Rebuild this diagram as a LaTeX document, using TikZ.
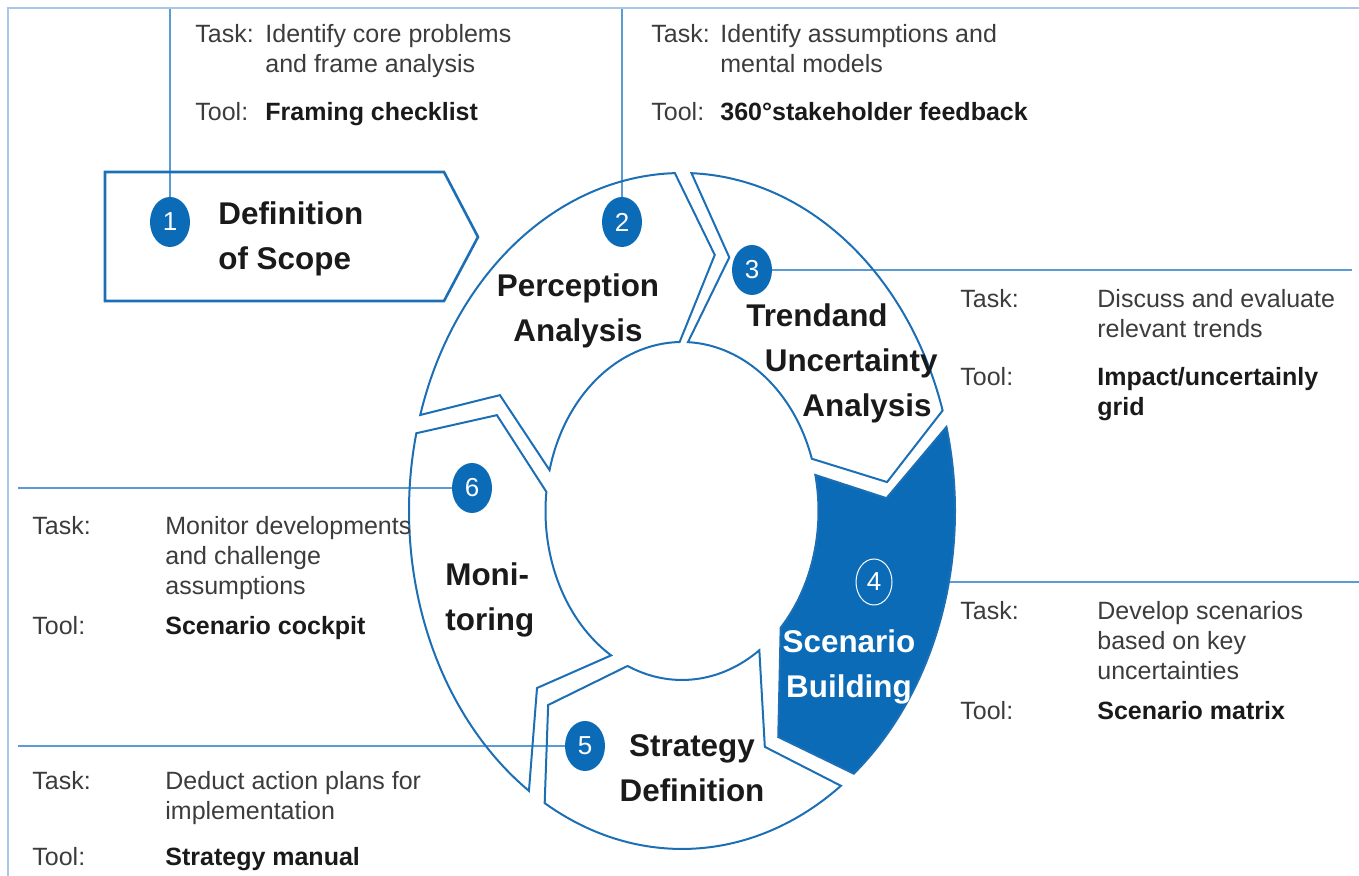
\documentclass[tikz,border=0pt]{standalone}
\usepackage{fontspec}
\setmainfont{Liberation Sans}
\usepackage{tikz}
\usetikzlibrary{shapes.geometric}
\usetikzlibrary{backgrounds}
\definecolor{ringblue}{HTML}{1C6FB5}
\definecolor{fillblue}{HTML}{0B6BB6}
\definecolor{leaderblue}{HTML}{5B9BD5}
\definecolor{framecol}{HTML}{A9C8E8}
\definecolor{notegray}{HTML}{3C3C3C}
\definecolor{toolblack}{HTML}{1A1A1A}

\begin{document}
\begin{tikzpicture}[x=0.5pt, y=0.5pt,
    seg/.style={draw=ringblue, line width=1pt, line join=miter},
    leader/.style={draw=leaderblue, line width=0.8pt},
    badge/.style={ellipse, fill=fillblue, text=white, minimum width=20pt, minimum height=25pt, inner sep=0pt, font=\fontsize{13}{13}\selectfont},
    note/.style={text=notegray, font=\fontsize{12.5}{15}\selectfont, inner sep=0pt, anchor=base west},
    phase/.style={text=toolblack, font=\fontsize{15.7}{22.5}\selectfont\bfseries, inner sep=0pt, anchor=base}]
        \useasboundingbox (0,0) rectangle (1359,876);
        \draw[framecol, line width=1pt] (8,0) -- (8,868) -- (1359,868);

        % ring of the five phases, clockwise from the top
        \begin{scope}[shift={(682,365)}, xscale=273, yscale=338]
            \draw[seg] (163.5:1) arc[start angle=163.5, end angle=91.5, radius=1] -- (81:0.767) -- (91:0.5) arc[start angle=91, end angle=166, radius=0.5] -- (152.8:0.75) -- cycle;
            \draw[seg] (88:1) arc[start angle=88, end angle=17.3, radius=1] -- (6.5:0.756) -- (18:0.5) arc[start angle=18, end angle=87.5, radius=0.5] -- (77:0.77) -- cycle;
            \draw[seg] (-54.4:1) arc[start angle=-54.4, end angle=-120.2, radius=1] -- (-130.5:0.755) -- (-113.5:0.5) arc[start angle=-113.5, end angle=-55.5, radius=0.5] -- (-66.5:0.761) -- cycle;
            \draw[seg] (-124.1:1) arc[start angle=-124.1, end angle=-193.3, radius=1] -- (-202.7:0.735) -- (-186.5:0.5) arc[start angle=-186.5, end angle=-121.3, radius=0.5] -- (-135.4:0.746) -- cycle;
        \end{scope}

        \draw[seg, line width=1.3pt] (105,704) -- (444,704) -- (478,639) -- (444,575) -- (105,575) -- cycle;

        \node[phase, anchor=base west] (scope) at (218,651) {\begin{tabular}[t]{@{}l@{}} Definition \\ of Scope \end{tabular}};
        \node[phase] (perception) at (578,579) {\begin{tabular}[t]{@{}c@{}} Perception \\ Analysis \end{tabular}};
        \node[phase, anchor=base east] (trend) at (938,549) {\begin{tabular}[t]{@{}r@{}} Trendand\hspace*{25pt} \\ Uncertainty \\ Analysis\hspace*{3pt} \end{tabular}};
        \node[phase, text=white] (building) at (849,223) {\begin{tabular}[t]{@{}c@{}} Scenario \\ Building \end{tabular}};
        \node[phase] (strategy) at (692,119) {\begin{tabular}[t]{@{}c@{}} Strategy \\ Definition \end{tabular}};
        \node[phase, anchor=base west] (monitoring) at (445,290) {\begin{tabular}[t]{@{}l@{}} Moni- \\ toring \end{tabular}};

        \node[note] (task1) at (195,833) {\begin{tabular}[t]{@{}p{35pt}@{}l@{}} Task: & Identify core problems \\ & and frame analysis \\[9pt] Tool: & \textcolor{toolblack}{\bfseries Framing checklist} \end{tabular}};
        \node[note] (task2) at (651,833) {\begin{tabular}[t]{@{}p{34.5pt}@{}l@{}} Task: & Identify assumptions and \\ & mental models \\[9pt] Tool: & \textcolor{toolblack}{\bfseries 360°stakeholder feedback} \end{tabular}};
        \node[note] (task3) at (960,568) {\begin{tabular}[t]{@{}p{68.5pt}@{}l@{}} Task: & Discuss and evaluate \\ & relevant trends \\[9pt] Tool: & \textcolor{toolblack}{\bfseries Impact/uncertainly} \\ & \textcolor{toolblack}{\bfseries grid} \end{tabular}};
        \node[note] (task4) at (960,256) {\begin{tabular}[t]{@{}p{68.5pt}@{}l@{}} Task: & Develop scenarios \\ & based on key \\ & uncertainties \\[5pt] Tool: & \textcolor{toolblack}{\bfseries Scenario matrix} \end{tabular}};
        \node[note] (task6) at (32,341) {\begin{tabular}[t]{@{}p{66.5pt}@{}l@{}} Task: & Monitor developments \\ & and challenge \\ & assumptions \\[5pt] Tool: & \textcolor{toolblack}{\bfseries Scenario cockpit} \end{tabular}};
        \node[note] (task5) at (32,86) {\begin{tabular}[t]{@{}p{66.5pt}@{}l@{}} Task: & Deduct action plans for \\ & implementation \\[8pt] Tool: & \textcolor{toolblack}{\bfseries Strategy manual} \end{tabular}};

        \node[badge] (n1) at (170,654) {1};
        \node[badge] (n2) at (622,654) {2};
        \node[badge] (n3) at (752,606) {3};
        \node[badge, fill=none, draw=white, line width=0.5pt, minimum width=18pt, minimum height=23pt] (n4) at (874,294) {4};
        \node[badge] (n5) at (585,130) {5};
        \node[badge] (n6) at (472,388) {6};

        \coordinate (e1) at (170,868);
        \coordinate (e2) at (622,868);
        \coordinate (e3) at (1352,606);
        \coordinate (e4) at (1359,294);
        \coordinate (e5) at (18,130);
        \coordinate (e6) at (18,388);

        \begin{pgfonlayer}{background}
            \draw[leader] (n1) -- (e1);
            \draw[leader] (n2) -- (e2);
            \draw[leader] (n3) -- (e3);
            \draw[leader] (n4.center) -- (e4);
            \draw[leader] (n5) -- (e5);
            \draw[leader] (n6) -- (e6);
            % the highlighted phase sits on top of its leader
            \begin{scope}[shift={(682,365)}, xscale=273, yscale=338]
                \filldraw[seg, fill=fillblue] (14.4:1) arc[start angle=14.4, end angle=-51, radius=1] -- (-62.2:0.756) -- (-43.7:0.5) arc[start angle=-43.7, end angle=12.3, radius=0.5] -- (2.9:0.75) -- cycle;
            \end{scope}
        \end{pgfonlayer}
    \end{tikzpicture}
\end{document}
